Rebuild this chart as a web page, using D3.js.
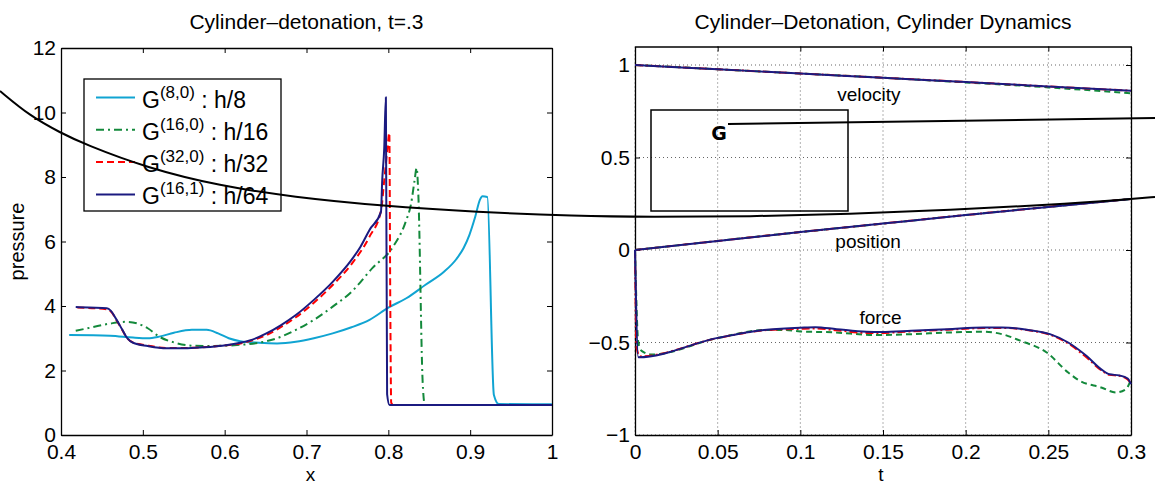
<!DOCTYPE html>
<html>
<head>
<meta charset="utf-8">
<script src="https://cdn.jsdelivr.net/npm/d3@7"></script>
<style>
body { margin: 0; background: #fff; }
svg { font-family: "Liberation Sans", Arial, Helvetica, sans-serif; }
</style>
</head>
<body>
<div id="figure"></div>
<script>

// ---- left panel: pressure at t=.3 ----
var xTicks = [0.4, 0.5, 0.6, 0.7, 0.8, 0.9, 1];
var xTickLabels = ["0.4", "0.5", "0.6", "0.7", "0.8", "0.9", "1"];
var pressureTicks = [0, 2, 4, 6, 8, 10, 12];
var pressureTickLabels = ["0", "2", "4", "6", "8", "10", "12"];

// G(8,0) : h/8
var g8_0 = [[0.41,3.1],[0.46,3.08],[0.488,3.02],[0.506,3.0],[0.52,3.05],[0.538,3.17],[0.56,3.26],[0.578,3.26],
  [0.592,3.15],[0.605,3.0],[0.619,2.91],[0.642,2.86],[0.664,2.84],[0.687,2.89],[0.709,3.0],[0.732,3.15],
  [0.755,3.34],[0.777,3.57],[0.8,3.95],[0.822,4.24],[0.845,4.65],[0.868,5.06],[0.883,5.45],[0.892,5.8],
  [0.899,6.2],[0.906,6.75],[0.912,7.3],[0.915,7.4],[0.921,7.38],[0.929,1.24],[0.935,0.96],[1.0,0.95]];
// G(16,0) : h/16
var g16_0 = [[0.418,3.23],[0.438,3.34],[0.461,3.46],[0.479,3.51],[0.493,3.46],[0.506,3.31],[0.52,3.05],
  [0.538,2.87],[0.56,2.77],[0.587,2.76],[0.615,2.79],[0.642,2.86],[0.664,3.0],[0.687,3.26],[0.709,3.57],
  [0.732,3.98],[0.755,4.44],[0.781,5.19],[0.805,5.81],[0.8216,6.64],[0.8277,7.16],[0.832,7.88],[0.8346,8.28],
  [0.8366,7.5],[0.8419,1.67],[0.844,1.0],[0.846,0.93],[1.0,0.93]];
// G(32,0) : h/32
var g32_0 = [[0.42,3.95],[0.456,3.9],[0.462,3.8],[0.468,3.55],[0.475,3.25],[0.481,3.0],[0.488,2.87],[0.506,2.77],
  [0.529,2.7],[0.551,2.7],[0.574,2.72],[0.597,2.77],[0.619,2.84],[0.633,2.93],[0.651,3.1],[0.669,3.35],
  [0.687,3.65],[0.709,4.1],[0.732,4.65],[0.755,5.3],[0.777,6.15],[0.791,6.95],[0.795,7.9],[0.799,8.9],
  [0.8012,9.37],[0.8024,4.0],[0.8035,1.0],[0.806,0.93],[1.0,0.93]];
// G(16,1) : h/64
var g16_1 = [[0.418,3.97],[0.434,3.95],[0.456,3.93],[0.461,3.85],[0.468,3.57],[0.475,3.26],[0.481,3.0],[0.488,2.86],
  [0.506,2.76],[0.529,2.69],[0.551,2.69],[0.574,2.72],[0.597,2.77],[0.619,2.86],[0.633,2.95],[0.651,3.15],
  [0.669,3.41],[0.687,3.72],[0.709,4.19],[0.732,4.75],[0.755,5.43],[0.766,5.84],[0.777,6.36],[0.791,6.92],
  [0.7925,7.88],[0.795,8.9],[0.797,10.47],[0.7985,1.27],[0.8015,0.93],[1.0,0.93]];

var legendSup = ["(8,0)", "(16,0)", "(32,0)", "(16,1)"];
var legendRes = ["h/8", "h/16", "h/32", "h/64"];

// ---- right panel: cylinder dynamics ----
var tTicks = [0, 0.05, 0.1, 0.15, 0.2, 0.25, 0.3];
var tTickLabels = ["0", "0.05", "0.1", "0.15", "0.2", "0.25", "0.3"];
var dynTicks = [-1, -0.5, 0, 0.5, 1];
var dynTickLabels = ["\u22121", "\u22120.5", "0", "0.5", "1"];

var velocityFine = [[0,1.0],[0.05,0.977],[0.1,0.954],[0.15,0.931],[0.2,0.908],[0.25,0.884],[0.3,0.861]];
var velocityCoarse = [[0,1.0],[0.05,0.977],[0.1,0.954],[0.15,0.931],[0.2,0.906],[0.25,0.879],[0.3,0.847]];
var positionFine = [[0,0],[0.05,0.049],[0.1,0.097],[0.15,0.143],[0.2,0.189],[0.25,0.233],[0.3,0.276]];

var forceFine = [[0,0],[0.002,-0.58],[0.05,-0.475],[0.078,-0.432],[0.1,-0.42],[0.109,-0.417],[0.122,-0.428],
  [0.14,-0.442],[0.149,-0.443],[0.167,-0.437],[0.189,-0.428],[0.211,-0.419],[0.222,-0.419],[0.238,-0.432],
  [0.251,-0.455],[0.262,-0.5],[0.273,-0.572],[0.282,-0.645],[0.287,-0.672],[0.293,-0.678],[0.298,-0.695],[0.3,-0.725]];
var forceMid = [[0,0],[0.001,-0.53],[0.003,-0.575],[0.05,-0.476],[0.078,-0.434],[0.1,-0.426],[0.109,-0.424],
  [0.122,-0.434],[0.14,-0.448],[0.149,-0.448],[0.167,-0.44],[0.189,-0.431],[0.211,-0.422],[0.222,-0.421],
  [0.238,-0.434],[0.251,-0.458],[0.262,-0.505],[0.273,-0.58],[0.282,-0.65],[0.287,-0.675],[0.293,-0.68],[0.298,-0.7],[0.3,-0.72]];
var forceCoarse = [[0,0],[0.002,-0.5],[0.004,-0.545],[0.01,-0.565],[0.05,-0.476],[0.08,-0.432],[0.09,-0.432],
  [0.1,-0.44],[0.12,-0.445],[0.145,-0.46],[0.167,-0.455],[0.19,-0.446],[0.211,-0.442],[0.222,-0.455],
  [0.233,-0.49],[0.249,-0.554],[0.262,-0.662],[0.269,-0.707],[0.282,-0.743],[0.291,-0.77],[0.297,-0.752],[0.3,-0.698]];

var curveLabels = [{text: "velocity", t: 0.1415, v: 0.84}, {text: "position", t: 0.141, v: 0.045}, {text: "force", t: 0.1485, v: -0.365}];

// stray annotation drawn over the figure (page pixels)
var overlayCurve = [[0,91],[30,116],[61,133],[84,144],[147,168],[220,186],[293,197],[383,206],[477,212],
  [575,216],[650,217],[750,216.5],[850,214],[950,210],[1050,205],[1131,199],[1155,197]];
var overlayPointer = [[728,124],[1155,118]];
var overlayBox = {x0: 651, y0: 110, x1: 848, y1: 211};

var colors = {cyan: "#10a4d2", green: "#13893b", red: "#ff0000", navy: "#1b1a80"};

var svgWidth = 1155;
var svgHeight = 486;

var svg = d3.select("#figure")
  .append("svg")
  .attr("width", svgWidth)
  .attr("height", svgHeight);

var tickFont = 21;

function boxAxes(g, x, y, w, h, xVals, xLabs, yVals, yLabs) {
  g.append("g")
    .attr("transform", `translate(0, ${h})`)
    .call(d3.axisBottom(x).tickValues(xVals).tickFormat((d, i) => xLabs[i]).tickSizeInner(-5).tickSizeOuter(0).tickPadding(9));
  g.append("g")
    .call(d3.axisTop(x).tickValues(xVals).tickFormat("").tickSizeInner(-5).tickSizeOuter(0));
  g.append("g")
    .call(d3.axisLeft(y).tickValues(yVals).tickFormat((d, i) => yLabs[i]).tickSizeInner(-5).tickSizeOuter(0).tickPadding(5));
  g.append("g")
    .attr("transform", `translate(${w}, 0)`)
    .call(d3.axisRight(y).tickValues(yVals).tickFormat("").tickSizeInner(-5).tickSizeOuter(0));
  g.selectAll(".domain").attr("stroke", "#000").attr("stroke-width", 1.3);
  g.selectAll(".tick line").attr("stroke", "#000");
  g.selectAll(".tick text").attr("font-size", tickFont).attr("fill", "#000")
    .attr("font-family", "Liberation Sans, Arial, sans-serif");
}

// ================= left panel =================
var left = {x: 61, y: 48, w: 491, h: 387};
var leftGroup = svg.append("g").attr("transform", `translate(${left.x}, ${left.y})`);

var xScale = d3.scaleLinear().domain([0.4, 1]).range([0, left.w]);
var pScale = d3.scaleLinear().domain([0, 12]).range([left.h, 0]);

boxAxes(leftGroup, xScale, pScale, left.w, left.h, xTicks, xTickLabels, pressureTicks, pressureTickLabels);

var pLine = d3.line().x(d => xScale(d[0])).y(d => pScale(d[1])).curve(d3.curveMonotoneX);

var leftSeries = [
  {data: g8_0, color: colors.cyan, dash: null},
  {data: g16_0, color: colors.green, dash: "8,4,2,4"},
  {data: g32_0, color: colors.red, dash: "7,4"},
  {data: g16_1, color: colors.navy, dash: null}
];

leftGroup.selectAll(".pline")
  .data(leftSeries)
  .enter()
  .append("path")
  .attr("class", "pline")
  .attr("d", d => pLine(d.data))
  .attr("fill", "none")
  .attr("stroke", d => d.color)
  .attr("stroke-width", 2)
  .attr("stroke-dasharray", d => d.dash)
  .attr("stroke-linejoin", "round");

// legend
var legend = svg.append("g").attr("transform", "translate(84, 79)");
legend.append("rect")
  .attr("width", 197).attr("height", 132)
  .attr("fill", "#fff").attr("stroke", "#000").attr("stroke-width", 1.3);

legendSup.forEach(function(sup, i) {
  var rowY = 18.5 + i * 32.3;
  legend.append("line")
    .attr("x1", 12).attr("x2", 51).attr("y1", rowY).attr("y2", rowY)
    .attr("stroke", leftSeries[i].color).attr("stroke-width", 2)
    .attr("stroke-dasharray", leftSeries[i].dash);
  var t = legend.append("text")
    .attr("x", 58).attr("y", rowY + 10)
    .attr("font-size", 23).attr("fill", "#000");
  t.append("tspan").text("G");
  t.append("tspan").attr("dy", -10).attr("font-size", 17).text(sup);
  t.append("tspan").attr("dy", 10).attr("font-size", 23).text("\u00a0: " + legendRes[i]);
});

svg.append("text")
  .attr("x", left.x + left.w / 2).attr("y", 29)
  .attr("text-anchor", "middle").attr("font-size", 21)
  .text("Cylinder\u2013detonation, t=.3");

svg.append("text")
  .attr("x", left.x + left.w / 2 + 4).attr("y", 481)
  .attr("text-anchor", "middle").attr("font-size", 19)
  .text("x");

svg.append("text")
  .attr("transform", `translate(24, ${left.y + left.h / 2}) rotate(-90)`)
  .attr("text-anchor", "middle").attr("font-size", 20)
  .text("pressure");

// ================= right panel =================
var right = {x: 635, y: 46.5, w: 496, h: 388.5};
var rightGroup = svg.append("g").attr("transform", `translate(${right.x}, ${right.y})`);

var tScale = d3.scaleLinear().domain([0, 0.3]).range([0, right.w]);
var dScale = d3.scaleLinear().domain([-1, 1.1]).range([right.h, 0]);

// dotted grid
rightGroup.selectAll(".vgrid")
  .data(tTicks)
  .enter()
  .append("line")
  .attr("x1", d => tScale(d)).attr("x2", d => tScale(d))
  .attr("y1", 0).attr("y2", right.h)
  .attr("stroke", "#666").attr("stroke-width", 1).attr("stroke-dasharray", "1,3");
rightGroup.selectAll(".hgrid")
  .data(dynTicks)
  .enter()
  .append("line")
  .attr("x1", 0).attr("x2", right.w)
  .attr("y1", d => dScale(d)).attr("y2", d => dScale(d))
  .attr("stroke", "#666").attr("stroke-width", 1).attr("stroke-dasharray", "1,3");

boxAxes(rightGroup, tScale, dScale, right.w, right.h, tTicks, tTickLabels, dynTicks, dynTickLabels);

var dLine = d3.line().x(d => tScale(d[0])).y(d => dScale(d[1])).curve(d3.curveMonotoneX);

var rightSeries = [
  {data: velocityCoarse, color: colors.green, dash: "6,4"},
  {data: velocityFine, color: colors.red, dash: "8,3,2,3"},
  {data: velocityFine, color: colors.navy, dash: null},
  {data: positionFine, color: colors.green, dash: "6,4"},
  {data: positionFine, color: colors.red, dash: "8,3,2,3"},
  {data: positionFine, color: colors.navy, dash: null},
  {data: forceCoarse, color: colors.green, dash: "6,4"},
  {data: forceMid, color: colors.red, dash: "8,3,2,3"},
  {data: forceFine, color: colors.navy, dash: null}
];

rightGroup.selectAll(".dline")
  .data(rightSeries)
  .enter()
  .append("path")
  .attr("class", "dline")
  .attr("d", d => dLine(d.data))
  .attr("fill", "none")
  .attr("stroke", d => d.color)
  .attr("stroke-width", 2)
  .attr("stroke-dasharray", d => d.dash)
  .attr("stroke-linejoin", "round");

rightGroup.selectAll(".clabel")
  .data(curveLabels)
  .enter()
  .append("text")
  .attr("x", d => tScale(d.t)).attr("y", d => dScale(d.v))
  .attr("dy", "0.35em")
  .attr("text-anchor", "middle").attr("font-size", 19)
  .text(d => d.text);

svg.append("text")
  .attr("x", right.x + right.w / 2).attr("y", 29)
  .attr("text-anchor", "middle").attr("font-size", 21)
  .text("Cylinder\u2013Detonation, Cylinder Dynamics");

svg.append("text")
  .attr("x", right.x + right.w / 2 - 2).attr("y", 481)
  .attr("text-anchor", "middle").attr("font-size", 19)
  .text("t");

// ================= overlay annotation =================
svg.append("path")
  .attr("d", d3.line().curve(d3.curveBasis)(overlayCurve))
  .attr("fill", "none").attr("stroke", "#000").attr("stroke-width", 2);

svg.append("rect")
  .attr("x", overlayBox.x0).attr("y", overlayBox.y0)
  .attr("width", overlayBox.x1 - overlayBox.x0).attr("height", overlayBox.y1 - overlayBox.y0)
  .attr("fill", "none").attr("stroke", "#000").attr("stroke-width", 1.5);

svg.append("text")
  .attr("x", 719).attr("y", 140)
  .attr("text-anchor", "middle")
  .attr("font-family", "DejaVu Sans, sans-serif").attr("font-weight", "bold").attr("font-size", 19)
  .text("G");

svg.append("path")
  .attr("d", d3.line()(overlayPointer))
  .attr("fill", "none").attr("stroke", "#000").attr("stroke-width", 2);

</script>
</body>
</html>
